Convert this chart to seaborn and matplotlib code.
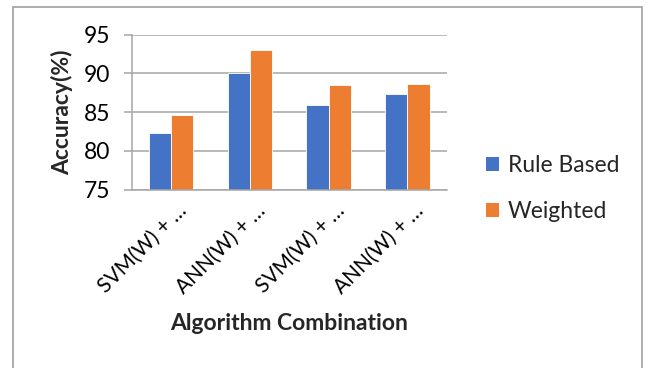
import matplotlib
matplotlib.use("Agg")
import matplotlib.pyplot as plt
import matplotlib.transforms as mtransforms
from matplotlib.patches import Rectangle, Patch
import seaborn as sns
import pandas as pd

# Data
categories = ["SVM(W) + …", "ANN(W) + …", "SVM(W) + … ", "ANN(W) + … "]
rule_based = [82.3, 90.1, 85.9, 87.3]
weighted = [84.7, 93.0, 88.5, 88.7]
series_names = ["Rule Based", "Weighted"]
y_ticks = [75, 80, 85, 90, 95]

colors = ["#4472C4", "#ED7D31"]
grid_col = "#a6a6a6"
fs = 16.5

df = pd.DataFrame({
    "Category": categories * 2,
    "Accuracy": rule_based + weighted,
    "Series": [series_names[0]] * 4 + [series_names[1]] * 4,
})

sns.set_theme(style="white")
plt.rcParams["font.family"] = ["Lato", "DejaVu Sans"]

fig = plt.figure(figsize=(6.51, 3.68), dpi=100)
ax = fig.add_axes([0.2023, 0.4845, 0.4839, 0.4212])

sns.barplot(data=df, x="Category", y="Accuracy", hue="Series",
            palette=colors, width=0.567, ax=ax, legend=False,
            edgecolor="white", linewidth=0.6, saturation=1)

ax.set_ylim(75, 95)
ax.set_xlim(-0.5, 3.5)
ax.set_yticks(y_ticks)
ax.set_yticklabels([str(v) for v in y_ticks], fontsize=fs, color="#000000")
ax.yaxis.grid(True, color=grid_col, linewidth=1.1)
ax.set_axisbelow(True)

# x ticks: tick marks at category boundaries, rotated labels drawn per category
ax.set_xticks(range(len(categories)))
ax.set_xticklabels([])
ax.tick_params(axis="x", which="major", length=0)
ax.set_xticks([-0.5, 0.5, 1.5, 2.5, 3.5], minor=True)
ax.tick_params(axis="x", which="minor", length=5.5, width=1.1, color=grid_col, direction="out")
ax.tick_params(axis="y", which="major", length=5.5, width=1.1, color=grid_col,
               direction="out", left=True, pad=10)

label_tr = ax.get_xaxis_transform() + mtransforms.ScaledTranslation(
    17 / 100, -22 / 100, fig.dpi_scale_trans)
for i, name in enumerate(categories):
    ax.text(i, 0, name.strip(), transform=label_tr, rotation=45,
            rotation_mode="anchor", ha="right", va="baseline",
            fontsize=15, color="#000000")

for s in ["top", "right"]:
    ax.spines[s].set_visible(False)
for s in ["left", "bottom"]:
    ax.spines[s].set_color(grid_col)
    ax.spines[s].set_linewidth(1.1)

ax.set_ylabel("Accuracy(%)", fontsize=fs, fontweight="bold", va="center")
ax.yaxis.set_label_coords(-0.221, 0.5)
ax.set_xlabel("Algorithm Combination", fontsize=fs, fontweight="bold", va="center")
ax.xaxis.set_label_coords(0.5, -0.86)

handles = [Patch(facecolor=c, edgecolor="none") for c in colors]
fig.legend(handles, series_names, loc="center left", bbox_to_anchor=(0.715, 0.487),
           frameon=False, fontsize=fs, handlelength=0.55, handleheight=0.55,
           handletextpad=0.4, labelspacing=1.08)

# Chart frame
frame = Rectangle((13 / 651, -0.05), (642 - 13) / 651, 1.05 - 7 / 368,
                  transform=fig.transFigure, fill=False,
                  edgecolor="#a0a0a0", linewidth=1.2)
fig.patches.append(frame)

fig.savefig("out.png", dpi=100)
